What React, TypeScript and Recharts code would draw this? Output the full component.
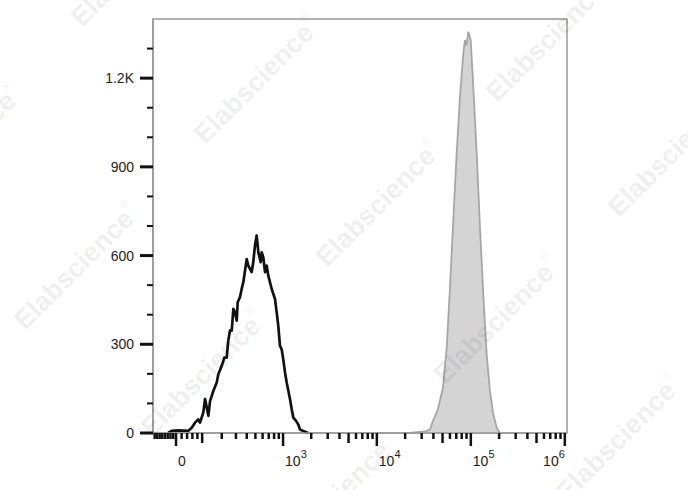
import { ComposedChart, Area, Line, XAxis, YAxis, ReferenceArea } from 'recharts';

// channel position in display decades (0 -> 0, 10^3 -> ~1.08) and event counts
const isoT = [-0.085, -0.046, 0.024, 0.128, 0.167, 0.202, 0.237, 0.255, 0.29, 0.309, 0.327, 0.344, 0.362, 0.397, 0.433, 0.45, 0.486, 0.514, 0.539, 0.556, 0.574, 0.593, 0.61, 0.628, 0.646, 0.656, 0.681, 0.699, 0.716, 0.752, 0.769, 0.805, 0.822, 0.84, 0.858, 0.876, 0.901, 0.912, 0.929, 0.947, 0.965, 0.982, 1.018, 1.053, 1.071, 1.088, 1.106, 1.124, 1.141, 1.16, 1.178, 1.213, 1.231, 1.248, 1.277, 1.301, 1.319, 1.354, 1.407];
const isoCount = [0, 7, 9, 7, 18, 35, 46, 35, 69, 115, 86, 58, 108, 142, 171, 199, 227, 255, 255, 312, 346, 346, 420, 408, 380, 442, 460, 488, 510, 588, 566, 544, 578, 634, 668, 611, 578, 611, 594, 544, 566, 532, 487, 453, 408, 362, 295, 283, 249, 204, 170, 114, 80, 52, 41, 29, 12, 7, 0];

const stainT = [2.489, 2.564, 2.649, 2.702, 2.734, 2.787, 2.84, 2.88, 2.915, 2.95, 2.986, 3.021, 3.057, 3.074, 3.09, 3.11, 3.135, 3.163, 3.199, 3.234, 3.269, 3.305, 3.34, 3.376, 3.412, 3.447];
const stainCount = [0, 3, 5, 12, 41, 81, 153, 289, 492, 719, 945, 1136, 1285, 1329, 1310, 1357, 1329, 1171, 945, 696, 471, 267, 142, 64, 18, 0];

const yTicks = [0, 100, 200, 300, 400, 500, 600, 700, 800, 900, 1000, 1100, 1200, 1300];
const yLabels: Record<number, string> = { 0: '0', 300: '300', 600: '600', 900: '900', 1200: '1.2K' };

const xMajor = [0, 1e3, 1e4, 1e5, 1e6];
const xMajorExp = ['', '3', '4', '5', '6'];
const xMedium = [100, 5e3, 5e4, 5e5];
const xMinor = [-80, -70, -60, -50, -40, -30, -20, -10, 20, 40, 60, 80, 200, 300, 400, 500, 600, 700, 800, 900,
  2e3, 3e3, 4e3, 6e3, 7e3, 8e3, 9e3, 2e4, 3e4, 4e4, 6e4, 7e4, 8e4, 9e4, 2e5, 3e5, 4e5, 6e5, 7e5, 8e5, 9e5];

const watermarks = [
  [135, -35], [258, 82], [380, 205], [498, 322], [620, 440],
  [-40, 150], [78, 268], [205, 375], [335, 500],
  [550, 40], [672, 155],
];

// biexponential display transform used by the x axis
const toT = (v: number) => Math.asinh(v / 146) / Math.LN10;
const X_MIN = -0.245;
const X_MAX = 4.16;

type XT = { t: number; kind: 'major' | 'medium' | 'minor'; exp?: string; last?: boolean };
const xTickList: XT[] = [
  ...xMajor.map((v, i) => ({ t: toT(v), kind: 'major' as const, exp: xMajorExp[i], last: i === xMajor.length - 1 })),
  ...xMedium.map((v) => ({ t: toT(v), kind: 'medium' as const })),
  ...xMinor.map((v) => ({ t: toT(v), kind: 'minor' as const })),
].filter((d) => d.t >= X_MIN && d.t <= X_MAX);

const isoData = isoT.map((t, i) => ({ t, iso: isoCount[i] }));
const stainData = stainT.map((t, i) => ({ t, stain: stainCount[i] }));

const FONT = '"Liberation Sans", Arial, sans-serif';

const XTick = (props: any) => {
  const { x, y, payload } = props;
  const info = xTickList.find((d) => Math.abs(d.t - payload.value) < 1e-6);
  if (!info) return null;
  const len = info.kind === 'major' ? 13 : info.kind === 'medium' ? 10 : 6;
  return (
    <g>
      <line x1={x} x2={x} y1={y} y2={y + len} stroke="#111" strokeWidth={2.5} />
      {info.kind === 'major' && (
        <text x={info.last ? x : x + 2} y={y + 33} textAnchor={info.last ? 'end' : 'start'} fontSize={14} fill="#222" fontFamily={FONT}>
          {info.exp ? (
            <>
              <tspan>10</tspan>
              <tspan dy={-8} fontSize={11}>{info.exp}</tspan>
            </>
          ) : (
            '0'
          )}
        </text>
      )}
    </g>
  );
};

const YTick = (props: any) => {
  const { x, y, payload } = props;
  const label = yLabels[payload.value];
  const major = label !== undefined;
  return (
    <g>
      <line x1={x - (major ? 13 : 6)} x2={x} y1={y} y2={y} stroke="#111" strokeWidth={major ? 3 : 2} />
      {major && (
        <text x={x - 19} y={y + 5} textAnchor="end" fontSize={14} fill="#222" fontFamily={FONT}>
          {label}
        </text>
      )}
    </g>
  );
};

export default function App() {
  return (
    <div style={{ position: 'absolute', left: 0, top: 0, width: 688, height: 490, background: '#fff' }}>
      <ComposedChart width={688} height={490} margin={{ top: 19, right: 121, left: 0, bottom: 0 }}>
        <XAxis
          type="number"
          dataKey="t"
          domain={[X_MIN, X_MAX]}
          allowDataOverflow
          ticks={xTickList.map((d) => d.t)}
          interval={0}
          tickSize={0}
          tickMargin={0}
          tick={<XTick />}
          height={57}
          axisLine={{ stroke: '#999', strokeWidth: 1.5 }}
        />
        <YAxis
          type="number"
          domain={[0, 1400]}
          ticks={yTicks}
          interval={0}
          tickSize={0}
          tickMargin={0}
          tick={<YTick />}
          width={153}
          axisLine={{ stroke: '#999', strokeWidth: 1.5 }}
        />
        <ReferenceArea x1={X_MIN} x2={X_MAX} y1={0} y2={1400} fill="none" stroke="#999" strokeWidth={1.5} />
        <Area
          data={stainData}
          dataKey="stain"
          type="linear"
          fill="#d4d4d4"
          fillOpacity={1}
          stroke="#a6a6a6"
          strokeWidth={1.8}
          isAnimationActive={false}
        />
        <Line
          data={isoData}
          dataKey="iso"
          type="linear"
          stroke="#111"
          strokeWidth={2.7}
          strokeLinejoin="round"
          dot={false}
          isAnimationActive={false}
        />
      </ComposedChart>
      <svg width={688} height={490} style={{ position: 'absolute', left: 0, top: 0, pointerEvents: 'none' }}>
        {watermarks.map(([cx, cy], i) => (
          <text
            key={i}
            x={cx}
            y={cy}
            transform={`rotate(-45 ${cx} ${cy})`}
            textAnchor="middle"
            dominantBaseline="middle"
            fontSize={27}
            fontWeight="bold"
            fontFamily={FONT}
            fill="#000"
            fillOpacity={0.075}
          >
            Elabscience<tspan fontSize={11} dy={-12}>®</tspan>
          </text>
        ))}
      </svg>
    </div>
  );
}
